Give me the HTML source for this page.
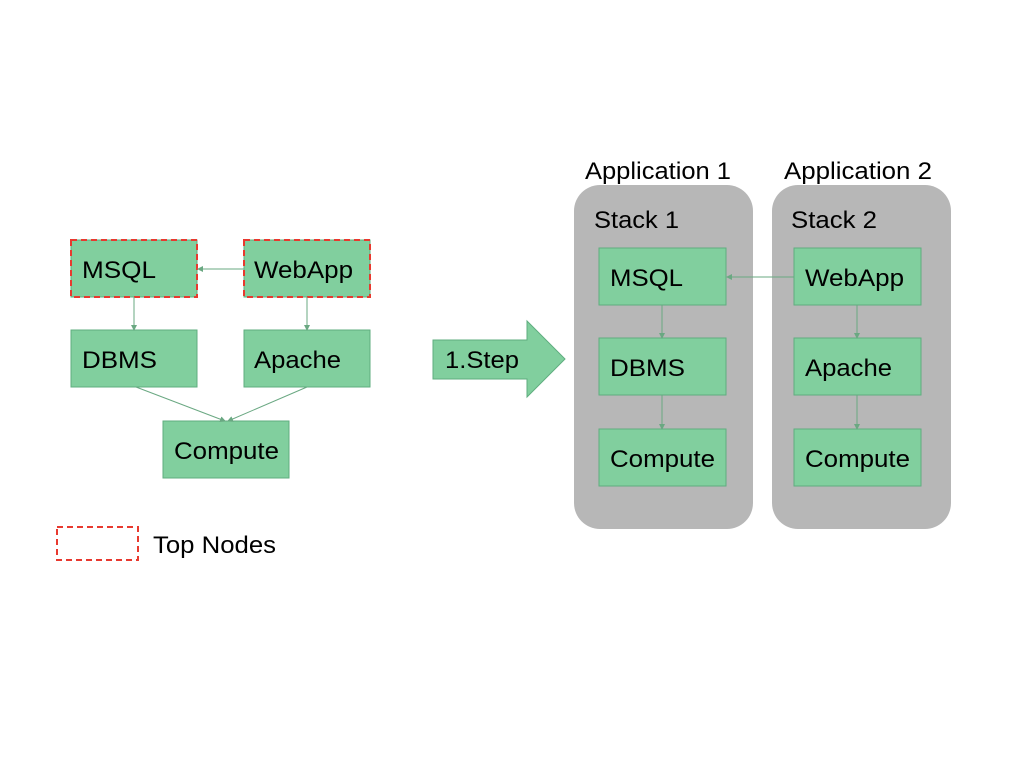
<!DOCTYPE html>
<html><head><meta charset="utf-8"><style>
html,body{margin:0;padding:0;background:#fff;}
svg{display:block;}
text{font-family:"Liberation Sans",Arial,sans-serif;font-size:24px;fill:#000;}
</style></head><body>
<svg width="1024" height="768" viewBox="0 0 1024 768" xmlns="http://www.w3.org/2000/svg">
<defs>
<marker id="ah" markerWidth="6" markerHeight="6" refX="5" refY="3" orient="auto" markerUnits="userSpaceOnUse">
<path d="M0,0 L6,3 L0,6 z" fill="#6aa882"/>
</marker>
</defs>
<g fill="#81cf9e" stroke="#5fae7f" stroke-width="1">
<rect x="71" y="240" width="126" height="57"/>
<rect x="244" y="240" width="126" height="57"/>
<rect x="71" y="330" width="126" height="57"/>
<rect x="244" y="330" width="126" height="57"/>
<rect x="163" y="421" width="126" height="57"/>
</g>
<g fill="none" stroke="#e8392f" stroke-width="2" stroke-dasharray="6,4">
<rect x="71" y="240" width="126" height="57"/>
<rect x="244" y="240" width="126" height="57"/>
<rect x="57" y="527" width="81" height="33"/>
</g>
<g stroke="#6aa882" stroke-width="1" fill="none" marker-end="url(#ah)">
<line x1="244" y1="269" x2="198" y2="269"/>
<line x1="134" y1="297" x2="134" y2="330"/>
<line x1="307" y1="297" x2="307" y2="330"/>
<line x1="136" y1="387" x2="225" y2="421"/>
<line x1="307" y1="387" x2="228" y2="421"/>
</g>
<text x="82" y="278" textLength="74" lengthAdjust="spacingAndGlyphs">MSQL</text>
<text x="254" y="278" textLength="99" lengthAdjust="spacingAndGlyphs">WebApp</text>
<text x="82" y="368" textLength="75" lengthAdjust="spacingAndGlyphs">DBMS</text>
<text x="254" y="368" textLength="87" lengthAdjust="spacingAndGlyphs">Apache</text>
<text x="174" y="459" textLength="105" lengthAdjust="spacingAndGlyphs">Compute</text>
<text x="153" y="553" textLength="123" lengthAdjust="spacingAndGlyphs">Top Nodes</text>

<path d="M433,340 L527,340 L527,321 L565,359 L527,397 L527,379 L433,379 Z" fill="#81cf9e" stroke="#5fae7f"/>
<text x="445" y="368" textLength="74" lengthAdjust="spacingAndGlyphs">1.Step</text>

<rect x="574" y="185" width="179" height="344" rx="26" fill="#b7b7b7"/>
<rect x="772" y="185" width="179" height="344" rx="26" fill="#b7b7b7"/>
<text x="585" y="179" textLength="146" lengthAdjust="spacingAndGlyphs">Application 1</text>
<text x="784" y="179" textLength="148" lengthAdjust="spacingAndGlyphs">Application 2</text>
<text x="594" y="228" textLength="85" lengthAdjust="spacingAndGlyphs">Stack 1</text>
<text x="791" y="228" textLength="86" lengthAdjust="spacingAndGlyphs">Stack 2</text>
<g fill="#81cf9e" stroke="#5fae7f" stroke-width="1">
<rect x="599" y="248" width="127" height="57"/>
<rect x="599" y="338" width="127" height="57"/>
<rect x="599" y="429" width="127" height="57"/>
<rect x="794" y="248" width="127" height="57"/>
<rect x="794" y="338" width="127" height="57"/>
<rect x="794" y="429" width="127" height="57"/>
</g>
<g stroke="#6aa882" stroke-width="1" fill="none" marker-end="url(#ah)">
<line x1="794" y1="277" x2="727" y2="277"/>
<line x1="662" y1="305" x2="662" y2="338"/>
<line x1="662" y1="395" x2="662" y2="429"/>
<line x1="857" y1="305" x2="857" y2="338"/>
<line x1="857" y1="395" x2="857" y2="429"/>
</g>
<text x="610" y="286" textLength="73" lengthAdjust="spacingAndGlyphs">MSQL</text>
<text x="610" y="376" textLength="75" lengthAdjust="spacingAndGlyphs">DBMS</text>
<text x="610" y="467" textLength="105" lengthAdjust="spacingAndGlyphs">Compute</text>
<text x="805" y="286" textLength="99" lengthAdjust="spacingAndGlyphs">WebApp</text>
<text x="805" y="376" textLength="87" lengthAdjust="spacingAndGlyphs">Apache</text>
<text x="805" y="467" textLength="105" lengthAdjust="spacingAndGlyphs">Compute</text>
</svg>
</body></html>
